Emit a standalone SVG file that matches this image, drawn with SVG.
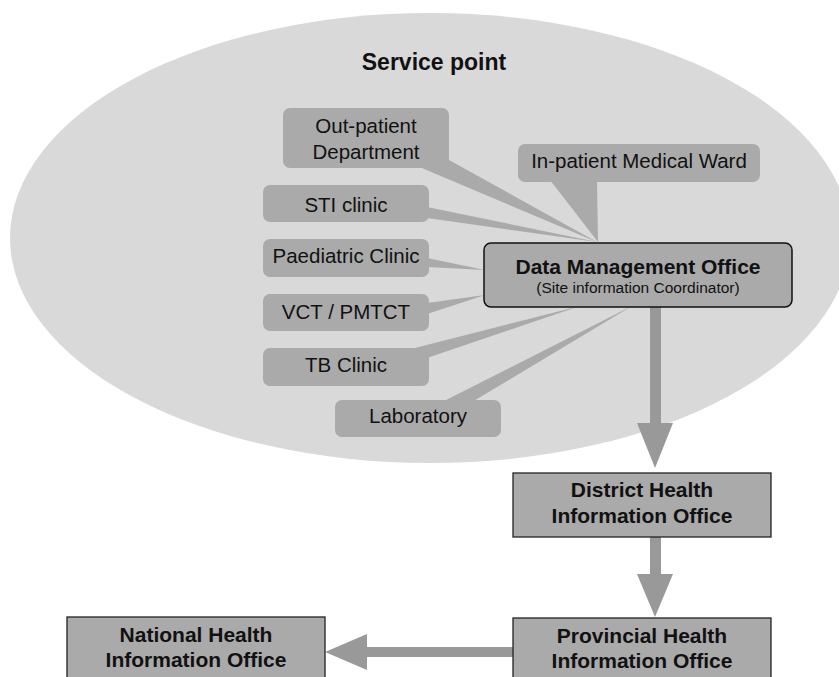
<svg xmlns="http://www.w3.org/2000/svg" width="839" height="677" viewBox="0 0 839 677">
<style>
text{font-family:"Liberation Sans",Arial,sans-serif;fill:#111;text-anchor:middle}
.lbl{font-size:20.5px}
.b{font-weight:bold;font-size:21px}
.sub{font-size:15.5px}
.unit{fill:#aaaaaa}
.wedge{fill:#aaaaaa}
.arrow{fill:#999999}
.office{fill:#aaaaaa;stroke:#222;stroke-width:1.3}
</style>
<rect width="839" height="677" fill="#fff"/>
<g id="service-point">
<ellipse cx="430" cy="238" rx="420" ry="225" fill="#d9d9d9"/>
<text x="434" y="70" style="font-weight:bold;font-size:23px">Service point</text>
</g>
<g id="connectors">
<polygon class="wedge" points="417,166 449,160 597,242"/>
<polygon class="wedge" points="550,180 597,180 598,242"/>
<polygon class="wedge" points="427,207 427,218 597,242"/>
<polygon class="wedge" points="427,258 427,267 485,270"/>
<polygon class="wedge" points="427,303 427,314 485,295"/>
<polygon class="wedge" points="407,350 427,358 580,306"/>
<polygon class="wedge" points="442,402 472,402 632,306"/>
<polygon class="arrow" points="650,306 661,306 661,423 673,423 655,468 637,423 650,423"/>
<polygon class="arrow" points="650,537 661,537 661,574 673,574 655,617 637,574 650,574"/>
<polygon class="arrow" points="513,647 367,647 367,634 325,652 367,670 367,657 513,657"/>
</g>
<g id="out-patient">
<rect class="unit" x="283" y="108" width="166" height="60" rx="7"/>
<text class="lbl" x="366" y="133">Out-patient</text>
<text class="lbl" x="366" y="159">Department</text>
</g>
<g id="in-patient">
<rect class="unit" x="518" y="144" width="242" height="38" rx="7"/>
<text class="lbl" x="639" y="168">In-patient Medical Ward</text>
</g>
<g id="sti">
<rect class="unit" x="263" y="185" width="166" height="37" rx="7"/>
<text class="lbl" x="346" y="212">STI clinic</text>
</g>
<g id="paediatric">
<rect class="unit" x="263" y="239" width="166" height="38" rx="7"/>
<text class="lbl" x="346" y="263">Paediatric Clinic</text>
</g>
<g id="vct">
<rect class="unit" x="263" y="294" width="166" height="37" rx="7"/>
<text class="lbl" x="346" y="319">VCT / PMTCT</text>
</g>
<g id="tb">
<rect class="unit" x="263" y="348" width="166" height="38" rx="7"/>
<text class="lbl" x="346" y="372">TB Clinic</text>
</g>
<g id="laboratory">
<rect class="unit" x="335" y="400" width="166" height="37" rx="7"/>
<text class="lbl" x="418" y="423">Laboratory</text>
</g>
<g id="dmo">
<rect x="484" y="243" width="308" height="64" rx="7" fill="#aaaaaa" stroke="#111" stroke-width="1.5"/>
<text class="b" x="638" y="274">Data Management Office</text>
<text class="sub" x="638" y="293">(Site information Coordinator)</text>
</g>
<g id="district">
<rect class="office" x="513" y="473" width="258" height="64"/>
<text class="b" x="642" y="497">District Health</text>
<text class="b" x="642" y="523">Information Office</text>
</g>
<g id="provincial">
<rect class="office" x="513" y="618" width="258" height="70"/>
<text class="b" x="642" y="643">Provincial Health</text>
<text class="b" x="642" y="668">Information Office</text>
</g>
<g id="national">
<rect class="office" x="67" y="617" width="258" height="70"/>
<text class="b" x="196" y="642">National Health</text>
<text class="b" x="196" y="667">Information Office</text>
</g>
</svg>
